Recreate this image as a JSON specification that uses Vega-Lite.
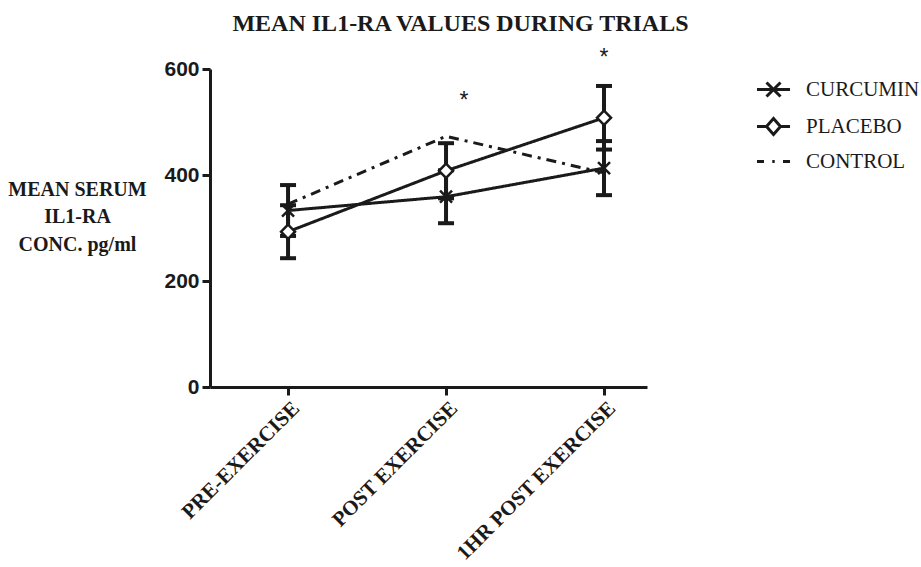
{
  "$schema": "https://vega.github.io/schema/vega-lite/v6.json",
  "autosize": {"type": "none"},
  "padding": {"left": 210, "top": 69, "right": 274, "bottom": 180},
  "width": 437,
  "height": 318,
  "background": "white",
  "title": {
    "text": "MEAN IL1-RA VALUES DURING TRIALS",
    "font": "Liberation Serif",
    "fontSize": 24,
    "fontWeight": "bold",
    "color": "#1a1a1a",
    "anchor": "middle",
    "frame": "group",
    "dx": 32,
    "offset": 11
  },
  "config": {
    "aria": false,
    "view": {"stroke": null},
    "axis": {"grid": false},
    "lineBreak": "\n"
  },
  "data": {
    "values": [
      {"group": "CURCUMIN", "t": "PRE-EXERCISE", "i": 0, "mean": 333, "lo": 285, "hi": 381},
      {"group": "CURCUMIN", "t": "POST EXERCISE", "i": 1, "mean": 359, "lo": 309, "hi": 409},
      {"group": "CURCUMIN", "t": "1HR POST EXERCISE", "i": 2, "mean": 413, "lo": 362, "hi": 464},
      {"group": "PLACEBO", "t": "PRE-EXERCISE", "i": 0, "mean": 293, "lo": 243, "hi": 343},
      {"group": "PLACEBO", "t": "POST EXERCISE", "i": 1, "mean": 408, "lo": 356, "hi": 460},
      {"group": "PLACEBO", "t": "1HR POST EXERCISE", "i": 2, "mean": 508, "lo": 448, "hi": 568},
      {"group": "CONTROL", "t": "PRE-EXERCISE", "i": 0, "mean": 345, "lo": null, "hi": null},
      {"group": "CONTROL", "t": "POST EXERCISE", "i": 1, "mean": 473, "lo": null, "hi": null},
      {"group": "CONTROL", "t": "1HR POST EXERCISE", "i": 2, "mean": 404, "lo": null, "hi": null}
    ]
  },
  "encoding": {
    "x": {
      "field": "i",
      "type": "quantitative",
      "scale": {"domain": [-0.494, 2.272], "nice": false, "zero": false},
      "axis": {
        "title": null,
        "values": [0, 1, 2],
        "labelExpr": "datum.value == 0 ? 'PRE-EXERCISE' : datum.value == 1 ? 'POST EXERCISE' : '1HR POST EXERCISE'",
        "labelAngle": -45,
        "labelAlign": "right",
        "labelBaseline": "top",
        "labelFont": "Liberation Serif",
        "labelFontWeight": "bold",
        "labelFontSize": 21,
        "labelColor": "#1a1a1a",
        "labelPadding": 2,
        "labelLimit": 400,
        "domainColor": "#1a1a1a",
        "domainWidth": 3,
        "tickColor": "#1a1a1a",
        "tickWidth": 3,
        "tickSize": 8,
        "labelOverlap": false,
        "labelBound": false
      }
    }
  },
  "layer": [
    {
      "transform": [{"filter": "datum.group != 'CONTROL'"}],
      "mark": {"type": "rule", "strokeWidth": 4, "color": "#1a1a1a", "aria": false},
      "encoding": {
        "y": {"field": "lo", "type": "quantitative", "title": "MEAN SERUM\nIL1-RA\nCONC. pg/ml"},
        "y2": {"field": "hi"}
      }
    },
    {
      "transform": [{"filter": "datum.group != 'CONTROL'"}],
      "mark": {"type": "tick", "orient": "horizontal", "size": 16, "thickness": 4, "color": "#1a1a1a", "opacity": 1, "aria": false},
      "encoding": {
        "y": {"field": "lo", "type": "quantitative", "title": "MEAN SERUM\nIL1-RA\nCONC. pg/ml"}
      }
    },
    {
      "transform": [{"filter": "datum.group != 'CONTROL'"}],
      "mark": {"type": "tick", "orient": "horizontal", "size": 16, "thickness": 4, "color": "#1a1a1a", "opacity": 1, "aria": false},
      "encoding": {
        "y": {"field": "hi", "type": "quantitative", "title": "MEAN SERUM\nIL1-RA\nCONC. pg/ml"}
      }
    },
    {
      "mark": {"type": "line", "strokeWidth": 3, "color": "#1a1a1a", "aria": false},
      "encoding": {
        "y": {
          "field": "mean",
          "type": "quantitative",
          "title": "MEAN SERUM\nIL1-RA\nCONC. pg/ml",
          "scale": {"domain": [0, 600], "nice": false},
          "axis": {
            "values": [0, 200, 400, 600],
            "titleAngle": 0,
            "titleAlign": "center",
            "titleBaseline": "middle",
            "titleX": -133,
            "titleY": 120,
            "titleFont": "Liberation Serif",
            "titleFontWeight": "bold",
            "titleFontSize": 20,
            "titleLineHeight": 27.5,
            "titleColor": "#1a1a1a",
            "titleLimit": 300,
            "labelFont": "Liberation Sans",
            "labelFontWeight": "bold",
            "labelFontSize": 21,
            "labelColor": "#1a1a1a",
            "labelPadding": 3,
            "domainColor": "#1a1a1a",
            "domainWidth": 3,
            "tickColor": "#1a1a1a",
            "tickWidth": 3,
            "tickSize": 8
          }
        },
        "detail": {"field": "group"},
        "strokeDash": {
          "field": "group",
          "type": "nominal",
          "scale": {"domain": ["CURCUMIN", "PLACEBO", "CONTROL"], "range": [[1, 0], [1, 0], [10, 6, 3, 6]]},
          "legend": null
        }
      }
    },
    {
      "transform": [{"filter": "datum.group != 'CONTROL'"}],
      "mark": {"type": "point", "filled": false, "fill": "white", "fillOpacity": 1, "stroke": "#1a1a1a", "strokeWidth": 2.5, "opacity": 1, "size": 400, "aria": false},
      "encoding": {
        "y": {"field": "mean", "type": "quantitative", "title": "MEAN SERUM\nIL1-RA\nCONC. pg/ml"},
        "shape": {
          "field": "group",
          "type": "nominal",
          "scale": {"domain": ["CURCUMIN", "PLACEBO"], "range": ["M-0.6,-0.6L0.6,0.6M-0.6,0.6L0.6,-0.6", "M0,-0.72L0.7,0L0,0.72L-0.7,0Z"]},
          "legend": null
        }
      }
    },
    {
      "mark": {"type": "point", "opacity": 0, "size": 400, "aria": false},
      "encoding": {
        "y": {"field": "mean", "type": "quantitative", "title": "MEAN SERUM\nIL1-RA\nCONC. pg/ml"},
        "shape": {
          "field": "group",
          "type": "nominal",
          "scale": {
            "domain": ["CURCUMIN", "PLACEBO", "CONTROL"],
            "range": [
              "M-1.65,0L1.65,0M-0.7,-0.7L0.7,0.7M-0.7,0.7L0.7,-0.7",
              "M-1.65,0L-0.7,0M0.7,0L1.65,0M0,-0.8L0.7,0L0,0.8L-0.7,0Z",
              "M-1.65,0L-0.95,0M-0.12,0L0.12,0M0.95,0L1.65,0"
            ]
          },
          "legend": {
            "title": null,
            "orient": "none",
            "legendX": 552,
            "legendY": 9,
            "symbolSize": 400,
            "symbolOpacity": 1,
            "symbolFillColor": "white",
            "symbolStrokeColor": "#1a1a1a",
            "symbolStrokeWidth": 3,
            "labelFont": "Liberation Serif",
            "labelFontSize": 21,
            "labelColor": "#1a1a1a",
            "labelOffset": 21,
            "rowPadding": 9,
            "labelLimit": 300
          }
        }
      }
    },
    {
      "data": {"values": [{"i": 1, "y": 539, "txt": "*"}]},
      "mark": {"type": "text", "font": "Liberation Sans", "fontSize": 23, "dx": 18, "baseline": "middle", "color": "#1a1a1a", "aria": false},
      "encoding": {
        "y": {"field": "y", "type": "quantitative", "title": "MEAN SERUM\nIL1-RA\nCONC. pg/ml"},
        "text": {"field": "txt"}
      }
    },
    {
      "data": {"values": [{"i": 2, "y": 620, "txt": "*"}]},
      "mark": {"type": "text", "font": "Liberation Sans", "fontSize": 23, "baseline": "middle", "color": "#1a1a1a", "clip": false, "aria": false},
      "encoding": {
        "y": {"field": "y", "type": "quantitative", "title": "MEAN SERUM\nIL1-RA\nCONC. pg/ml"},
        "text": {"field": "txt"}
      }
    }
  ],
  "resolve": {"scale": {"shape": "independent"}}
}
